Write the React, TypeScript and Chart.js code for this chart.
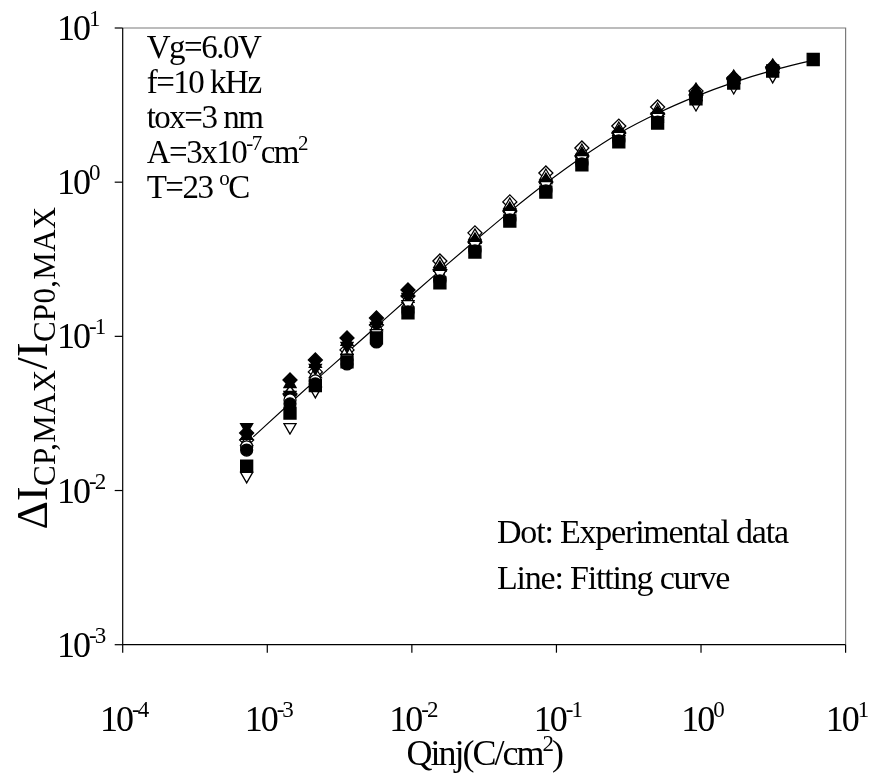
import React, { useEffect, useRef } from 'react';
import { Chart, registerables } from 'chart.js';

Chart.register(...registerables);

// Injected charge density (C/cm^2) at each stress step
const qinj = [7.2e-4, 1.436e-3, 2.15e-3, 3.56e-3, 5.69e-3, 9.4e-3, 1.563e-2, 2.73e-2, 4.76e-2, 8.45e-2, 0.15, 0.27, 0.501, 0.923, 1.683, 3.13, 5.97];

// Normalized charge-pumping current increase, one array per device
const filledSquare = [0.0144, 0.0318, 0.048, 0.0683, 0.0977, 0.142, 0.222, 0.352, 0.56, 0.863, 1.294, 1.824, 2.421, 3.467, 4.395, 5.26, 6.25];
const openCircle = [0.0192, 0.0387, 0.0514, 0.0703, 0.0948, 0.151, 0.236, 0.369, 0.586, 0.904, 1.352, 1.905, 2.529, 3.412, 4.467, 5.188, null];
const filledCircle = [0.0183, 0.0365, 0.0491, 0.0662, 0.092, 0.144, 0.229, 0.358, 0.569, 0.877, 1.312, 1.849, 2.455, 3.573, 4.529, 5.346, null];
const openTriangle = [0.0207, 0.0435, 0.057, 0.0804, 0.115, 0.175, 0.295, 0.448, 0.711, 1.096, 1.592, 2.213, 2.938, 3.784, 4.6, 5.42, null];
const filledTriangle = [0.0226, 0.0491, 0.0662, 0.092, 0.126, 0.191, 0.278, 0.422, 0.67, 1.033, 1.524, 2.118, 2.812, 3.963, 4.809, 5.675, null];
const filledDiamond = [0.0236, 0.0521, 0.0703, 0.0977, 0.1316, 0.2, 0.27, 0.409, 0.65, 1.002, 1.479, 2.084, 2.767, 3.681, 4.667, 5.508, null];
const openDiamond = [0.0213, 0.0423, 0.0588, 0.0817, 0.1186, 0.183, 0.308, 0.469, 0.745, 1.148, 1.667, 2.312, 3.076, 3.899, 4.74, 5.59, null];
const openInvTriangle = [0.01245, 0.0258, 0.0443, 0.0724, 0.105, 0.162, 0.254, 0.392, 0.622, 0.959, 1.413, 1.995, 2.648, 3.214, 4.143, 4.887, null];
const filledInvTriangle = [0.0258, 0.0417, 0.0624, 0.0867, 0.117, 0.18, 0.258, 0.397, 0.631, 0.973, 1.435, 2.023, 2.685, 3.365, 4.335, 5.105, null];

// Fitting curve
const fitQ = [8.0e-4, 1.436e-3, 2.15e-3, 3.56e-3, 5.69e-3, 9.4e-3, 1.563e-2, 2.73e-2, 4.76e-2, 8.45e-2, 0.15, 0.27, 0.501, 0.923, 1.683, 3.13, 5.97];
const fitValues = [0.0223, 0.0368, 0.0518, 0.0785, 0.1159, 0.1758, 0.2667, 0.4166, 0.644, 0.984, 1.452, 2.07, 2.8, 3.6, 4.44, 5.31, 6.19];

// Decade tick exponents
const xExponents = [-4, -3, -2, -1, 0, 1];
const yExponents = [-3, -2, -1, 0, 1];

const conditions = [
  [{ t: 'Vg=6.0V' }],
  [{ t: 'f=10 kHz' }],
  [{ t: 'tox=3 nm' }],
  [{ t: 'A=3x10' }, { t: '-7', k: 'sup' }, { t: 'cm' }, { t: '2', k: 'sup' }],
  [{ t: 'T=23 ' }, { t: 'o', k: 'sup' }, { t: 'C' }],
];
const notes = ['Dot: Experimental data', 'Line: Fitting curve'];

type Run = { t: string; k?: string };
const FAMILY = '"Liberation Serif", "Times New Roman", serif';

function drawRuns(
  ctx: CanvasRenderingContext2D,
  runs: Run[],
  x: number,
  y: number,
  size: number,
  align: 'left' | 'center' | 'right',
  spacing = -1,
  small = size * 0.62,
  supRaise = size * 0.4,
  subDrop = size * 0.22,
) {
  const fontFor = (r: Run) => `${r.k ? small : size}px ${FAMILY}`;
  (ctx as any).letterSpacing = `${spacing}px`;
  const widths = runs.map((r) => {
    ctx.font = fontFor(r);
    return ctx.measureText(r.t).width;
  });
  const total = widths.reduce((a, b) => a + b, 0);
  let cx = align === 'left' ? x : align === 'center' ? x - total / 2 : x - total;
  ctx.textAlign = 'left';
  ctx.textBaseline = 'alphabetic';
  runs.forEach((r, i) => {
    ctx.font = fontFor(r);
    const dy = r.k === 'sup' ? -supRaise : r.k === 'sub' ? subDrop : 0;
    ctx.fillText(r.t, cx, y + dy);
    cx += widths[i];
  });
  (ctx as any).letterSpacing = '0px';
}

const framePlugin = {
  id: 'frame',
  afterDraw(chart: any) {
    const { ctx, chartArea: a, scales } = chart;
    const xs = scales.x;
    const ys = scales.y;
    ctx.save();
    // top/right frame
    ctx.strokeStyle = '#7a7a7a';
    ctx.lineWidth = 1.2;
    ctx.beginPath();
    ctx.moveTo(a.left, a.top);
    ctx.lineTo(a.right, a.top);
    ctx.lineTo(a.right, a.bottom);
    ctx.stroke();
    // axes
    ctx.strokeStyle = '#000';
    ctx.lineWidth = 1.2;
    ctx.beginPath();
    ctx.moveTo(a.left, a.top);
    ctx.lineTo(a.left, a.bottom);
    ctx.lineTo(a.right, a.bottom);
    ctx.stroke();
    ctx.fillStyle = '#000';
    // x ticks + labels
    xExponents.forEach((e) => {
      const px = xs.getPixelForValue(Math.pow(10, e));
      ctx.beginPath();
      ctx.moveTo(px, a.bottom);
      ctx.lineTo(px, a.bottom + 8);
      ctx.stroke();
      drawRuns(ctx, [{ t: '10' }, { t: String(e), k: 'sup' }], px + 1, a.bottom + 86, 36, 'center', -2, 23, 14);
    });
    // y ticks + labels ("10" column aligned on its left edge)
    yExponents.forEach((e) => {
      const py = ys.getPixelForValue(Math.pow(10, e));
      ctx.beginPath();
      ctx.moveTo(a.left - 8, py);
      ctx.lineTo(a.left, py);
      ctx.stroke();
      drawRuns(ctx, [{ t: '10' }, { t: String(e), k: 'sup' }], 57, py + 12, 36, 'left', -2, 23, 14);
    });
    // x title
    drawRuns(ctx, [{ t: 'Qinj(C/cm' }, { t: '2', k: 'sup' }, { t: ')' }], (a.left + a.right) / 2, a.bottom + 120, 36, 'center', -2, 23, 14);
    // y title
    ctx.save();
    ctx.translate(47, 368);
    ctx.rotate(-Math.PI / 2);
    drawRuns(
      ctx,
      [{ t: 'ΔI' }, { t: 'CP,MAX', k: 'sub' }, { t: '/I' }, { t: 'CP0,MAX', k: 'sub' }],
      0,
      0,
      44,
      'center',
      0.3,
      31,
      0,
      8,
    );
    ctx.restore();
    // annotation text
    conditions.forEach((line, i) => {
      drawRuns(ctx, line as Run[], a.left + 24, a.top + 30 + i * 35, 33, 'left', -1.5, 21, 13);
    });
    notes.forEach((t, i) => {
      drawRuns(ctx, [{ t }], 497, 543 + i * 46, 34, 'left', -1.2);
    });
    ctx.restore();
  },
};

function pts(values: (number | null)[]) {
  return values
    .map((v, i) => (v === null ? null : { x: qinj[i], y: v }))
    .filter((p) => p !== null);
}

function markerSet(label: string, values: (number | null)[], style: string, filled: boolean, radius: number, rotation = 0) {
  return {
    type: 'scatter' as const,
    label,
    data: pts(values),
    pointStyle: style,
    pointRadius: radius,
    pointRotation: rotation,
    pointBackgroundColor: filled ? '#000' : '#fff',
    pointBorderColor: '#000',
    pointBorderWidth: 1.3,
    showLine: false,
  };
}

export default function App() {
  const ref = useRef<HTMLCanvasElement | null>(null);
  useEffect(() => {
    document.body.style.margin = '0';
    const canvas = ref.current;
    if (!canvas) return;
    const chart = new Chart(canvas, {
      type: 'scatter',
      data: {
        datasets: [
          {
            type: 'line' as const,
            label: 'fit',
            data: fitQ.map((q, i) => ({ x: q, y: fitValues[i] })),
            borderColor: '#000',
            borderWidth: 1.2,
            pointRadius: 0,
            cubicInterpolationMode: 'monotone',
            fill: false,
            order: 10,
          } as any,
          markerSet('s1', filledSquare, 'rect', true, 8.5),
          markerSet('s2', filledCircle, 'circle', true, 6),
          markerSet('s3', openInvTriangle, 'triangle', false, 7, 180),
          markerSet('s4', openCircle, 'circle', false, 6),
          markerSet('s5', filledInvTriangle, 'triangle', true, 7, 180),
          markerSet('s6', filledDiamond, 'rectRot', true, 7),
          markerSet('s7', filledTriangle, 'triangle', true, 7),
          markerSet('s8', openTriangle, 'triangle', false, 7),
          markerSet('s9', openDiamond, 'rectRot', false, 7),
        ],
      },
      options: {
        responsive: false,
        animation: false,
        layout: { padding: { left: 122.7, right: 26.4, top: 28, bottom: 136.3 } },
        plugins: { legend: { display: false }, tooltip: { enabled: false } },
        scales: {
          x: { type: 'logarithmic', min: 1e-4, max: 10, display: false },
          y: { type: 'logarithmic', min: 1e-3, max: 10, display: false },
        },
      },
      plugins: [framePlugin],
    });
    return () => chart.destroy();
  }, []);
  return <canvas ref={ref} width={872} height={781} style={{ display: 'block', width: 872, height: 781 }} />;
}
